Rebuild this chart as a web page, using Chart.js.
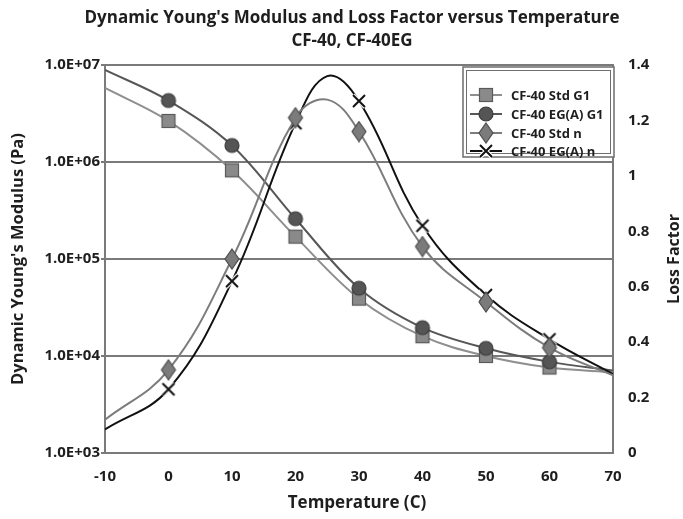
<!DOCTYPE html>
<html>
<head>
<meta charset="utf-8">
<script src="https://cdn.jsdelivr.net/npm/chart.js@4.4.1/dist/chart.umd.min.js"></script>
<style>
  html, body { margin: 0; padding: 0; background: #fff; }
  #wrap { width: 683px; height: 519px; }
</style>
</head>
<body>
<div id="wrap"><canvas id="chart" width="683" height="519"></canvas></div>
<script>
// Values
const tempsG1 = [-10, 0, 10, 20, 30, 40, 50, 60, 70]
const stdG1 = [5.8e6, 2.65e6, 8.2e5, 1.7e5, 3.9e4, 1.6e4, 1.0e4, 7.6e3, 6.8e3]
const egG1 = [8.9e6, 4.3e6, 1.48e6, 2.6e5, 5.0e4, 1.96e4, 1.2e4, 8.7e3, 7.1e3]

const tempsN = [-10, 0, 10, 20, 25, 30, 40, 50, 60, 70]
const stdN = [0.12, 0.30, 0.70, 1.21, 1.275, 1.16, 0.745, 0.545, 0.38, 0.28]
const egN = [0.085, 0.23, 0.62, 1.19, 1.36, 1.27, 0.82, 0.57, 0.41, 0.285]

const markerTemps = [0, 10, 20, 30, 40, 50, 60]
const logTicks = [1e3, 1e4, 1e5, 1e6, 1e7]
const lossTicks = [0, 0.2, 0.4, 0.6, 0.8, 1, 1.2, 1.4]

const seriesNames = ["CF-40 Std G1", "CF-40 EG(A) G1", "CF-40 Std n", "CF-40 EG(A) n"]
const FONT = "'Open Sans', 'DejaVu Sans', sans-serif"
const TEXT = "#1e1e1e"

// marker images
function makeMarker(kind) {
  const c = document.createElement("canvas")
  c.width = 22
  c.height = 22
  const g = c.getContext("2d")
  g.translate(11, 11)
  g.lineWidth = 1.2
  if (kind === "square") {
    g.fillStyle = "#8a8a8a"
    g.strokeStyle = "#5a5a5a"
    g.fillRect(-6.5, -6.5, 13, 13)
    g.strokeRect(-6.5, -6.5, 13, 13)
  } else if (kind === "circle") {
    g.fillStyle = "#555"
    g.strokeStyle = "#3c3c3c"
    g.beginPath()
    g.arc(0, 0, 7, 0, Math.PI * 2)
    g.fill()
    g.stroke()
  } else if (kind === "diamond") {
    g.fillStyle = "#7b7b7b"
    g.strokeStyle = "#4e4e4e"
    g.beginPath()
    g.moveTo(0, -10)
    g.lineTo(7, 0)
    g.lineTo(0, 10)
    g.lineTo(-7, 0)
    g.closePath()
    g.fill()
    g.stroke()
  } else {
    const d = 6
    g.lineCap = "butt"
    g.strokeStyle = "#fff"
    g.lineWidth = 4.5
    g.beginPath()
    g.moveTo(-d, -d); g.lineTo(d, d)
    g.moveTo(d, -d); g.lineTo(-d, d)
    g.stroke()
    g.strokeStyle = "#111"
    g.lineWidth = 2
    g.beginPath()
    g.moveTo(-d, -d); g.lineTo(d, d)
    g.moveTo(d, -d); g.lineTo(-d, d)
    g.stroke()
  }
  return c
}

const markers = [makeMarker("square"), makeMarker("circle"), makeMarker("diamond"), makeMarker("x")]
const lineColors = ["#8e8e8e", "#575757", "#7c7c7c", "#111111"]

const pts = (xs, ys) => xs.map((x, i) => ({ x: x, y: ys[i] }))
const markRadius = (ctx) => (ctx.raw && markerTemps.includes(ctx.raw.x) ? 7 : 0)

function makeSet(i, xs, ys, axis, order, tension) {
  return {
    label: seriesNames[i],
    data: pts(xs, ys),
    yAxisID: axis,
    borderColor: lineColors[i],
    backgroundColor: lineColors[i],
    borderWidth: 2,
    tension: tension,
    pointStyle: markers[i],
    pointRadius: markRadius,
    pointHoverRadius: markRadius,
    order: order,
  }
}

const frameAndText = {
  id: "frameAndText",
  beforeDatasetsDraw(chart) {
    const { ctx, chartArea: a } = chart
    ctx.save()
    ctx.strokeStyle = "#7a7a7a"
    ctx.lineWidth = 2
    ctx.strokeRect(a.left, a.top, a.right - a.left, a.bottom - a.top)
    ctx.restore()
  },
  afterDatasetsDraw(chart) {
    const { ctx } = chart
    // legend box
    ctx.save()
    ctx.fillStyle = "#fff"
    ctx.fillRect(463, 67, 151, 90)
    ctx.strokeStyle = "#6e6e6e"
    ctx.lineWidth = 1.5
    ctx.strokeRect(463, 67, 151, 90)
    ctx.lineWidth = 1
    ctx.strokeRect(466.5, 70.5, 144, 83)
    const rows = [95, 114, 133, 151]
    ctx.font = "bold 13px " + FONT
    ctx.textBaseline = "middle"
    ctx.textAlign = "left"
    rows.forEach((y, i) => {
      ctx.strokeStyle = lineColors[i]
      ctx.lineWidth = 2
      ctx.beginPath()
      ctx.moveTo(470, y)
      ctx.lineTo(502, y)
      ctx.stroke()
      const m = markers[i]
      ctx.drawImage(m, 486 - m.width / 2, y - m.height / 2)
      ctx.fillStyle = TEXT
      ctx.fillText(seriesNames[i], 511, y + 1)
    })
    ctx.restore()
  },
  afterDraw(chart) {
    const { ctx, chartArea: a } = chart
    const midY = (a.top + a.bottom) / 2
    ctx.save()
    ctx.fillStyle = TEXT
    ctx.textAlign = "center"
    ctx.textBaseline = "middle"
    ctx.font = "bold 17px " + FONT
    ctx.fillText("Dynamic Young's Modulus and Loss Factor versus Temperature", 352, 18)
    ctx.fillText("CF-40, CF-40EG", 352, 41)
    ctx.font = "bold 17px " + FONT
    ctx.fillText("Temperature (C)", 357, 503)
    ctx.font = "bold 16.5px " + FONT
    ctx.translate(18, midY)
    ctx.rotate(-Math.PI / 2)
    ctx.fillText("Dynamic Young's Modulus (Pa)", 0, 0)
    ctx.restore()
    ctx.save()
    ctx.fillStyle = TEXT
    ctx.textAlign = "center"
    ctx.textBaseline = "middle"
    ctx.font = "bold 16px " + FONT
    ctx.translate(674, midY)
    ctx.rotate(-Math.PI / 2)
    ctx.fillText("Loss Factor", 0, 0)
    ctx.restore()
  },
}

const tickFont = { family: FONT, size: 15, weight: "bold" }

new Chart(document.getElementById("chart"), {
  type: "line",
  data: {
    datasets: [
      makeSet(0, tempsG1, stdG1, "y", 4, 0.35),
      makeSet(1, tempsG1, egG1, "y", 3, 0.35),
      makeSet(2, tempsN, stdN, "y1", 1, 0.4),
      makeSet(3, tempsN, egN, "y1", 2, 0.4),
    ],
  },
  options: {
    responsive: false,
    animation: false,
    events: [],
    layout: { padding: { top: 65, left: 0, right: 0, bottom: 0 } },
    plugins: {
      legend: { display: false },
      title: { display: false },
      tooltip: { enabled: false },
    },
    scales: {
      x: {
        type: "linear",
        min: -10,
        max: 70,
        afterFit: (s) => { s.height = 66 },
        grid: { display: false },
        border: { display: false },
        ticks: {
          stepSize: 10,
          padding: 7,
          color: TEXT,
          font: tickFont,
        },
      },
      y: {
        type: "logarithmic",
        position: "left",
        min: 1e3,
        max: 1e7,
        afterFit: (s) => { s.width = 105 },
        afterBuildTicks: (s) => { s.ticks = logTicks.map((v) => ({ value: v })) },
        grid: { color: "#7a7a7a", lineWidth: 2, tickLength: 4 },
        border: { display: false },
        ticks: {
          padding: 1,
          color: TEXT,
          font: tickFont,
          callback: (v) => "1.0E+" + String(Math.round(Math.log10(v))).padStart(2, "0"),
        },
      },
      y1: {
        type: "linear",
        position: "right",
        min: 0,
        max: 1.4,
        afterFit: (s) => { s.width = 70 },
        afterBuildTicks: (s) => { s.ticks = lossTicks.map((v) => ({ value: v })) },
        grid: { display: false },
        border: { display: false },
        ticks: {
          padding: 7,
          color: TEXT,
          font: tickFont,
          callback: (v) => String(+v.toFixed(1)),
        },
      },
    },
  },
  plugins: [frameAndText],
})
</script>
</body>
</html>
